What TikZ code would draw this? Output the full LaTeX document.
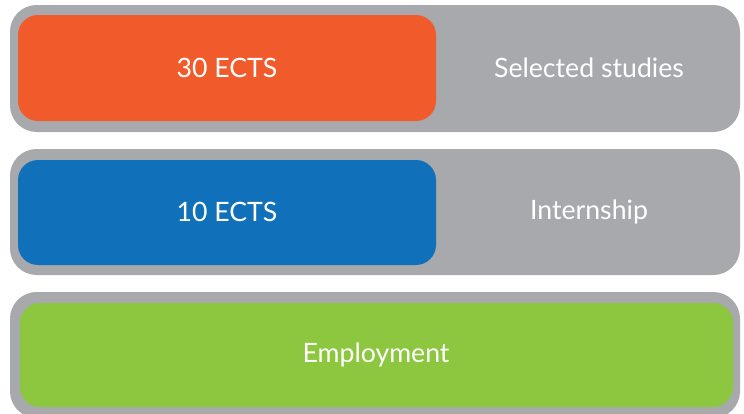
\documentclass[tikz,border=0pt]{standalone}
\usepackage{fontspec}
\setmainfont{Lato}
\definecolor{bargrey}{HTML}{A7A9AC}
\definecolor{ectsorange}{HTML}{F15A2B}
\definecolor{ectsblue}{HTML}{1071BA}
\definecolor{empgreen}{HTML}{8DC63F}
\begin{document}
\begin{tikzpicture}[x=0.75pt,y=-0.75pt,
  outerbar/.style={fill=bargrey,draw=none,rounded corners=20pt},
  innerbox/.style={draw=none,rounded corners=15pt},
  lbl/.style={text=white,font=\fontsize{20}{24}\selectfont,inner sep=0pt}]
\useasboundingbox (0,0) rectangle (744,414);
\clip (0,0) rectangle (744,414);
% bar 1
\path[outerbar] (10,5) rectangle (740,132);
\path[innerbox,fill=ectsorange] (18,15) rectangle (436,121);
\node[lbl] (e30) at (227,68) {30 ECTS};
\node[lbl] (sel) at (589,68) {Selected studies};
% bar 2
\path[outerbar] (10,149) rectangle (740,275);
\path[innerbox,fill=ectsblue] (18,160) rectangle (436,265);
\node[lbl] (e10) at (227,212) {10 ECTS};
\node[lbl] (int) at (589,212) {Internship};
% bar 3
\path[outerbar] (10,292) rectangle (740,418);
\path[innerbox,fill=empgreen] (20,303) rectangle (733,407);
\node[lbl] (emp) at (376,355) {Employment};
\end{tikzpicture}
\end{document}
